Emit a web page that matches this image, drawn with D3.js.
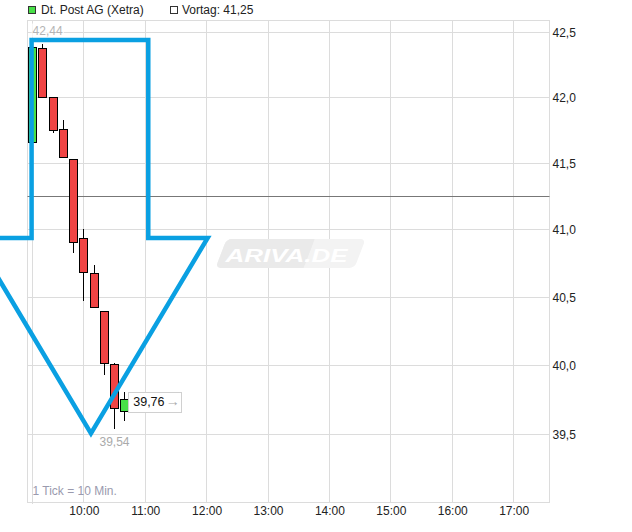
<!DOCTYPE html>
<html><head><meta charset="utf-8">
<script src="https://cdn.jsdelivr.net/npm/d3@7"></script>
<style>body{margin:0;background:#fff;} svg{display:block;font-family:"Liberation Sans",Arial,sans-serif;}</style>
</head><body><svg id="c" width="632" height="532"></svg>
<script>
// ---- data ----
const times  = ["09:10","09:20","09:30","09:40","09:50","10:00","10:10","10:20","10:30","10:40"];
const open   = [41.66,42.38,42.00,41.76,41.53,40.94,40.68,40.40,40.01,39.67];
const high   = [42.44,42.41,42.00,41.83,41.53,41.01,40.74,40.40,40.02,39.81];
const low    = [41.66,42.00,41.73,41.55,40.83,40.47,40.43,39.93,39.54,39.60];
const close  = [42.39,42.00,41.75,41.55,40.91,40.69,40.43,40.02,39.69,39.76];
const prevClose = 41.25;
const yTicks = [39.5,40.0,40.5,41.0,41.5,42.0,42.5];
const xTicks = ["10:00","11:00","12:00","13:00","14:00","15:00","16:00","17:00"];
const session = ["09:05","17:35"];
const priceRange = [39.02, 42.595];
const seriesName = "Dt. Post AG (Xetra)";
const prevLabel = "Vortag: 41,25";
const tickNote = "1 Tick = 10 Min.";
// hand-drawn arrow annotation (time, price)
const arrowTimes  = ["09:09","11:03","11:03","12:01","10:07","08:13","09:09"];
const arrowPrices = [42.44, 42.44, 40.94, 40.94, 39.51, 40.94, 40.94];

// ---- helpers ----
const toMin = s => { const [h,m] = s.split(":").map(Number); return h*60+m; };
const fmt = (v,d) => v.toFixed(d).replace(".", ",");
const crisp = v => Math.floor(v) + 0.5;

const L = 27.5, R = 549.5, T = 20, B = 502;
const svg = d3.select("#c");
const x = d3.scaleLinear().domain(session.map(toMin)).range([L, R]);
const y = d3.scaleLog().domain(priceRange).range([B, T]);

const data = times.map((t,i)=>({t:toMin(t), o:open[i], h:high[i], l:low[i], c:close[i]}));

// grid
const grid = svg.append("g").attr("stroke", "#dcdcdc").attr("stroke-width", 1);
yTicks.forEach(v => grid.append("line").attr("x1", L).attr("x2", R).attr("y1", crisp(y(v))).attr("y2", crisp(y(v))));
xTicks.map(toMin).forEach(v => grid.append("line").attr("x1", crisp(x(v))).attr("x2", crisp(x(v))).attr("y1", T).attr("y2", B));
grid.append("line").attr("x1", crisp(x(data[0].t))).attr("x2", crisp(x(data[0].t))).attr("y1", T).attr("y2", B+2);
grid.append("rect").attr("x", L).attr("y", T+0.5).attr("width", R-L).attr("height", B-T).attr("fill", "none");

// watermark
const wmX = (L+R)/2 - 73, wmY = (T+B)/2 + 7;
const wm = svg.append("g");
const wg = wm.append("g").attr("transform", `translate(${wmX},${wmY}) skewX(-21)`);
wg.append("rect").attr("x",0).attr("y",-29).attr("width",139).attr("height",29).attr("rx",5).attr("fill","#f3f3f3");
wg.append("rect").attr("x",0).attr("y",-29).attr("width",88).attr("height",29).attr("rx",5).attr("fill","#eaeaea");
wg.append("rect").attr("x",60).attr("y",-29).attr("width",28).attr("height",29).attr("fill","#eaeaea");
wm.append("text").attr("x", wmX+10).attr("y", wmY-6.5)
  .attr("font-size", 18).attr("font-weight","bold").attr("font-style","italic").attr("fill","#fff")
  .attr("textLength", 122).attr("lengthAdjust","spacingAndGlyphs").text("ARIVA.DE");

// previous close line
svg.append("line").attr("x1", L).attr("x2", R).attr("y1", crisp(y(prevClose))).attr("y2", crisp(y(prevClose)))
  .attr("stroke", "#777").attr("stroke-width", 1);

// candles
const bw = 8;
const cg = svg.append("g");
data.forEach(d => {
  const cx = crisp(x(d.t));
  cg.append("line").attr("x1", cx).attr("x2", cx).attr("y1", Math.round(y(d.h))).attr("y2", Math.round(y(d.l)))
    .attr("stroke", "#000").attr("stroke-width", 1);
  const top = Math.round(y(Math.max(d.o,d.c))), bot = Math.round(y(Math.min(d.o,d.c)));
  cg.append("rect").attr("x", cx - bw/2).attr("y", top + 0.5).attr("width", bw).attr("height", Math.max(1, bot-top))
    .attr("fill", d.c >= d.o ? "#48e048" : "#f04444").attr("stroke", "#000").attr("stroke-width", 1);
});

// axes
const ya = svg.append("g").attr("transform", `translate(${R},0)`)
  .call(d3.axisRight(y).tickValues(yTicks).tickSize(0).tickPadding(3).tickFormat(d => fmt(d,1)));
const xa = svg.append("g").attr("transform", `translate(0,${B})`)
  .call(d3.axisBottom(x).tickValues(xTicks.map(toMin)).tickSize(0).tickPadding(4).tickFormat((d,i)=>xTicks[i]));
[ya, xa].forEach(a => { a.select(".domain").remove(); a.selectAll("text").attr("font-size", 12).attr("fill", "#222").attr("font-family", "Liberation Sans, Arial, sans-serif"); });

// high / low labels
const hi = d3.maxIndex(data, d => d.h), lo = d3.minIndex(data, d => d.l);
const hiG = svg.append("g");
const hiT = hiG.append("text").attr("x", x(data[hi].t)).attr("y", y(data[hi].h) - 5.5)
  .attr("font-size", 12).attr("fill", "#b4b4b4").text(fmt(data[hi].h,2));
const bb = hiT.node().getBBox();
hiG.insert("rect","text").attr("x", bb.x-1).attr("y", bb.y).attr("width", bb.width+2).attr("height", bb.height).attr("fill", "#fff").attr("opacity", 0.7);
svg.append("text").attr("x", x(data[lo].t)).attr("y", y(data[lo].l) + 16.5).attr("text-anchor","middle")
  .attr("font-size", 12).attr("fill", "#aaa").text(fmt(data[lo].l,2));

// last price box
const last = data[data.length-1];
const lx = x(last.t) + 3, ly = y(last.c);
svg.append("rect").attr("x", Math.round(lx)+0.5).attr("y", Math.round(ly-7)+0.5).attr("width", 53).attr("height", 20)
  .attr("fill", "#fff").attr("stroke", "#d0d0d0");
svg.append("text").attr("x", lx+5.5).attr("y", ly+7.5).attr("font-size", 12.5).attr("fill", "#111").text(fmt(last.c,2));
svg.append("text").attr("x", lx+38).attr("y", ly+7.5).attr("font-size", 14).attr("font-weight","bold").attr("fill", "#aaa").text("→");

// tick note
svg.append("text").attr("x", L+5).attr("y", B-7).attr("font-size", 12).attr("fill", "#9a9aae").text(tickNote);

// legend
svg.append("rect").attr("x", 28.5).attr("y", 6.5).attr("width", 7).attr("height", 7).attr("fill", "#48e048").attr("stroke", "#333");
svg.append("text").attr("x", 41).attr("y", 14).attr("font-size", 12).attr("fill", "#222").text(seriesName);
svg.append("rect").attr("x", 170.5).attr("y", 6.5).attr("width", 7).attr("height", 7).attr("fill", "#fff").attr("stroke", "#333");
svg.append("text").attr("x", 182).attr("y", 14).attr("font-size", 12).attr("fill", "#222").text(prevLabel);

// arrow annotation
const pts = arrowTimes.map((t,i)=>[x(toMin(t)), y(arrowPrices[i])]);
svg.append("path").attr("d", d3.line()(pts) + "Z").attr("fill", "none")
  .attr("stroke", "#0aa0e2").attr("stroke-width", 4.5).attr("stroke-linejoin", "miter").attr("stroke-miterlimit", 10);
</script></body></html>
